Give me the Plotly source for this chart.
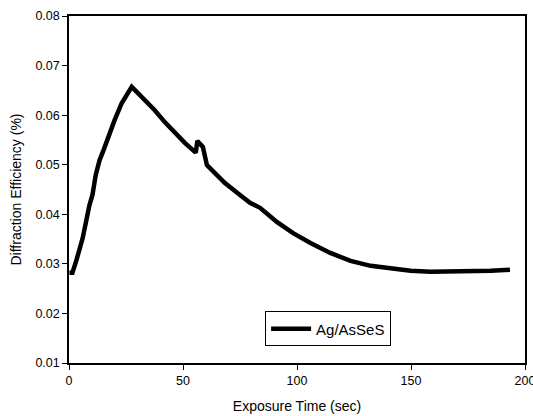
import plotly.graph_objects as go

time_sec = [0.2, 1.5, 3.3, 6, 9, 10.3, 11.7, 13.4, 15.2, 17.8, 20, 23.1, 25.7, 27.5,
            29.7, 33.2, 37.6, 42, 46.4, 50.8, 55.2, 55.6, 56.3, 58.7, 60.5, 62.7, 68.4,
            75, 79.4, 83.8, 91.3, 98.3, 105.9, 114.6, 123.5, 132.3, 141, 149.8, 158.6,
            163, 171.8, 180.6, 185, 189, 193.4]
efficiency = [0.0282, 0.0282, 0.0308, 0.0352, 0.0419, 0.0439, 0.0479, 0.0509, 0.0530,
              0.0564, 0.0590, 0.0624, 0.0645, 0.0657, 0.0647, 0.0631, 0.0610, 0.0586,
              0.0564, 0.0544, 0.0526, 0.0524, 0.0548, 0.0536, 0.0499, 0.0489, 0.0463,
              0.0439, 0.0423, 0.0413, 0.0384, 0.0362, 0.0342, 0.0322, 0.0306, 0.0296,
              0.0290, 0.0286, 0.0284, 0.0284, 0.0284, 0.0284, 0.0286, 0.0287, 0.0288]

x_ticks = [0, 50, 100, 150, 200]
y_ticks = [0.01, 0.02, 0.03, 0.04, 0.05, 0.06, 0.07, 0.08]

fig = go.Figure()
fig.add_trace(go.Scatter(x=time_sec, y=efficiency, mode="lines", name="Ag/AsSeS",
                         line=dict(color="black", width=4.5)))

axis_common = dict(showline=True, linecolor="black", linewidth=1.5, mirror=True,
                   ticks="outside", ticklen=5, tickwidth=1.2, tickcolor="black",
                   showgrid=False, zeroline=False, automargin=False,
                   ticklabeloverflow="allow",
                   tickfont=dict(family="Liberation Sans, Arial", size=12.5, color="black"))

fig.update_layout(
    width=533, height=416,
    margin=dict(l=69, r=8, t=16, b=53),
    plot_bgcolor="white", paper_bgcolor="white",
    font=dict(family="Liberation Sans, Arial", color="black"),
    showlegend=True,
    legend=dict(x=0.43, y=0.098, xanchor="left", yanchor="middle",
                bordercolor="black", borderwidth=1, bgcolor="white",
                font=dict(size=15, family="Liberation Sans, Arial"),
                tracegroupgap=0, itemwidth=40),
    xaxis=dict(range=[0, 200], tickvals=x_ticks,
               title=dict(text="Exposure Time (sec)", font=dict(size=14), standoff=14),
               **axis_common),
    yaxis=dict(range=[0.01, 0.08], tickvals=y_ticks,
               ticktext=[f"{v:.2f}" for v in y_ticks],
               title=dict(text="Diffraction Efficiency (%)", font=dict(size=14), standoff=11),
               **axis_common),
)

fig.write_html("out.html", config={"displayModeBar": False},
               post_script="document.body.style.margin='0';document.body.style.overflow='hidden';")
